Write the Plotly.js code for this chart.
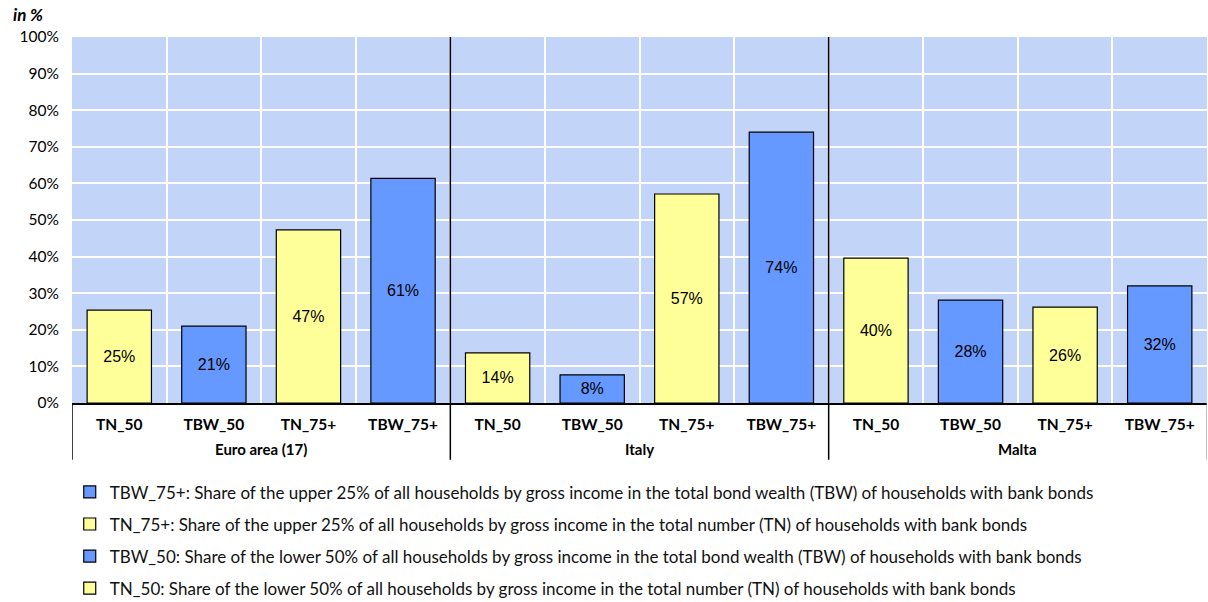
<!DOCTYPE html>
<html><head><meta charset="utf-8">
<script src="https://cdn.plot.ly/plotly-3.0.1.min.js"></script>
<style>body{margin:0;background:#fff}#c{width:1208px;height:602px}</style>
</head><body><div id="c"></div>
<script>
const groups = ["Euro area (17)", "Italy", "Malta"];
const seriesNames = ["TN_50", "TBW_50", "TN_75+", "TBW_75+"];
const TN_50 = [25.4, 13.7, 39.6];
const TBW_50 = [21.0, 7.7, 28.1];
const TN_75 = [47.3, 57.1, 26.2];
const TBW_75 = [61.4, 74.0, 32.0];
const legendTexts = [
  "TN_50: Share of the lower 50% of all households by gross income in the total number (TN) of households with bank bonds",
  "TBW_50: Share of the lower 50% of all households by gross income in the total bond wealth (TBW) of households with bank bonds",
  "TN_75+: Share of the upper 25% of all households by gross income in the total number (TN) of households with bank bonds",
  "TBW_75+: Share of the upper 25% of all households by gross income in the total bond wealth (TBW) of households with bank bonds"
];
const yTicks = [0,10,20,30,40,50,60,70,80,90,100];
const yTickText = yTicks.map(v => v + "%");

const allVals = [TN_50, TBW_50, TN_75, TBW_75];
const colors = ["#FFFF99", "#6699FF", "#FFFF99", "#6699FF"];

// unique category keys (group + series), labelled with the series name
const catKeys = [], catText = [];
groups.forEach(g => seriesNames.forEach(s => { catKeys.push(g + " | " + s); catText.push(s); }));
const nS = seriesNames.length;

const traces = seriesNames.map((s, i) => ({
  type: "bar",
  name: legendTexts[i],
  legendgroup: "g" + i,
  legendrank: nS - i,
  x: groups.map(g => g + " | " + s),
  y: allVals[i],
  width: 0.68,
  marker: {color: colors[i], line: {color: "#000", width: 1.2}},
  text: allVals[i].map(v => Math.round(v) + "%"),
  textposition: "inside",
  insidetextanchor: "middle",
  textfont: {family: "Liberation Sans, Arial, sans-serif", size: 16, color: "#000"},
  hoverinfo: "none"
}));

const labelFont = {family: "Lato, sans-serif", size: 15, color: "#000", weight: "bold"};
const shapes = [];
for (let g = 0; g <= groups.length; g++) {
  const xb = g * nS - 0.5;
  const inner = g > 0 && g < groups.length;
  shapes.push({type: "line", xref: "x", yref: "paper", x0: xb, x1: xb,
    y0: -0.155, y1: inner ? 1 : 0, line: {color: g === groups.length ? "#888" : "#000", width: g === groups.length ? 1 : 1.5}});
}
const annotations = groups.map((g, k) => ({
  text: "<b>" + g + "</b>", xref: "x", yref: "paper", x: k * nS + (nS - 1) / 2, y: -0.126,
  xanchor: "center", yanchor: "middle", showarrow: false, font: labelFont
}));
annotations.push({text: "<b><i>in %</i></b>", xref: "paper", yref: "paper", x: -0.054, y: 1.095,
  xanchor: "left", yanchor: "top", showarrow: false, font: {family: "Lato, sans-serif", size: 17, color: "#000"}});

const layout = {
  width: 1208, height: 602,
  margin: {l: 72, r: 1, t: 37, b: 199, autoexpand: false},
  paper_bgcolor: "#fff",
  plot_bgcolor: "#C2D4F8",
  barmode: "overlay",
  showlegend: true,
  font: {family: "Lato, 'Open Sans', sans-serif", color: "#000"},
  xaxis: {
    type: "category",
    categoryorder: "array", categoryarray: catKeys,
    tickmode: "array", tickvals: catKeys, ticktext: catText,
    tickson: "boundaries",
    range: [-0.5, catKeys.length - 0.5],
    showgrid: true, gridcolor: "#FFFFFF", gridwidth: 2,
    showline: true, linecolor: "#000", linewidth: 2,
    ticks: "",
    ticklabelstandoff: 6,
    tickfont: {family: "Lato, sans-serif", size: 15.5, color: "#000", weight: "bold"},
    fixedrange: true
  },
  yaxis: {
    range: [0, 100],
    tickvals: yTicks, ticktext: yTickText,
    showgrid: true, gridcolor: "#FFFFFF", gridwidth: 2,
    zeroline: false, showline: false, ticks: "",
    tickfont: {family: "Lato, sans-serif", size: 15.5, color: "#000"},
    ticklabelstandoff: 12,
    fixedrange: true
  },
  legend: {
    x: -0.002, xanchor: "left", y: -0.195, yanchor: "top",
    traceorder: "grouped",
    tracegroupgap: 7,
    font: {family: "Lato, sans-serif", size: 17, color: "#111"},
    bgcolor: "rgba(0,0,0,0)",
    itemclick: false, itemdoubleclick: false
  },
  shapes: shapes,
  annotations: annotations
};

Plotly.newPlot("c", traces, layout, {displayModeBar: false, staticPlot: true});
</script>
</body></html>
